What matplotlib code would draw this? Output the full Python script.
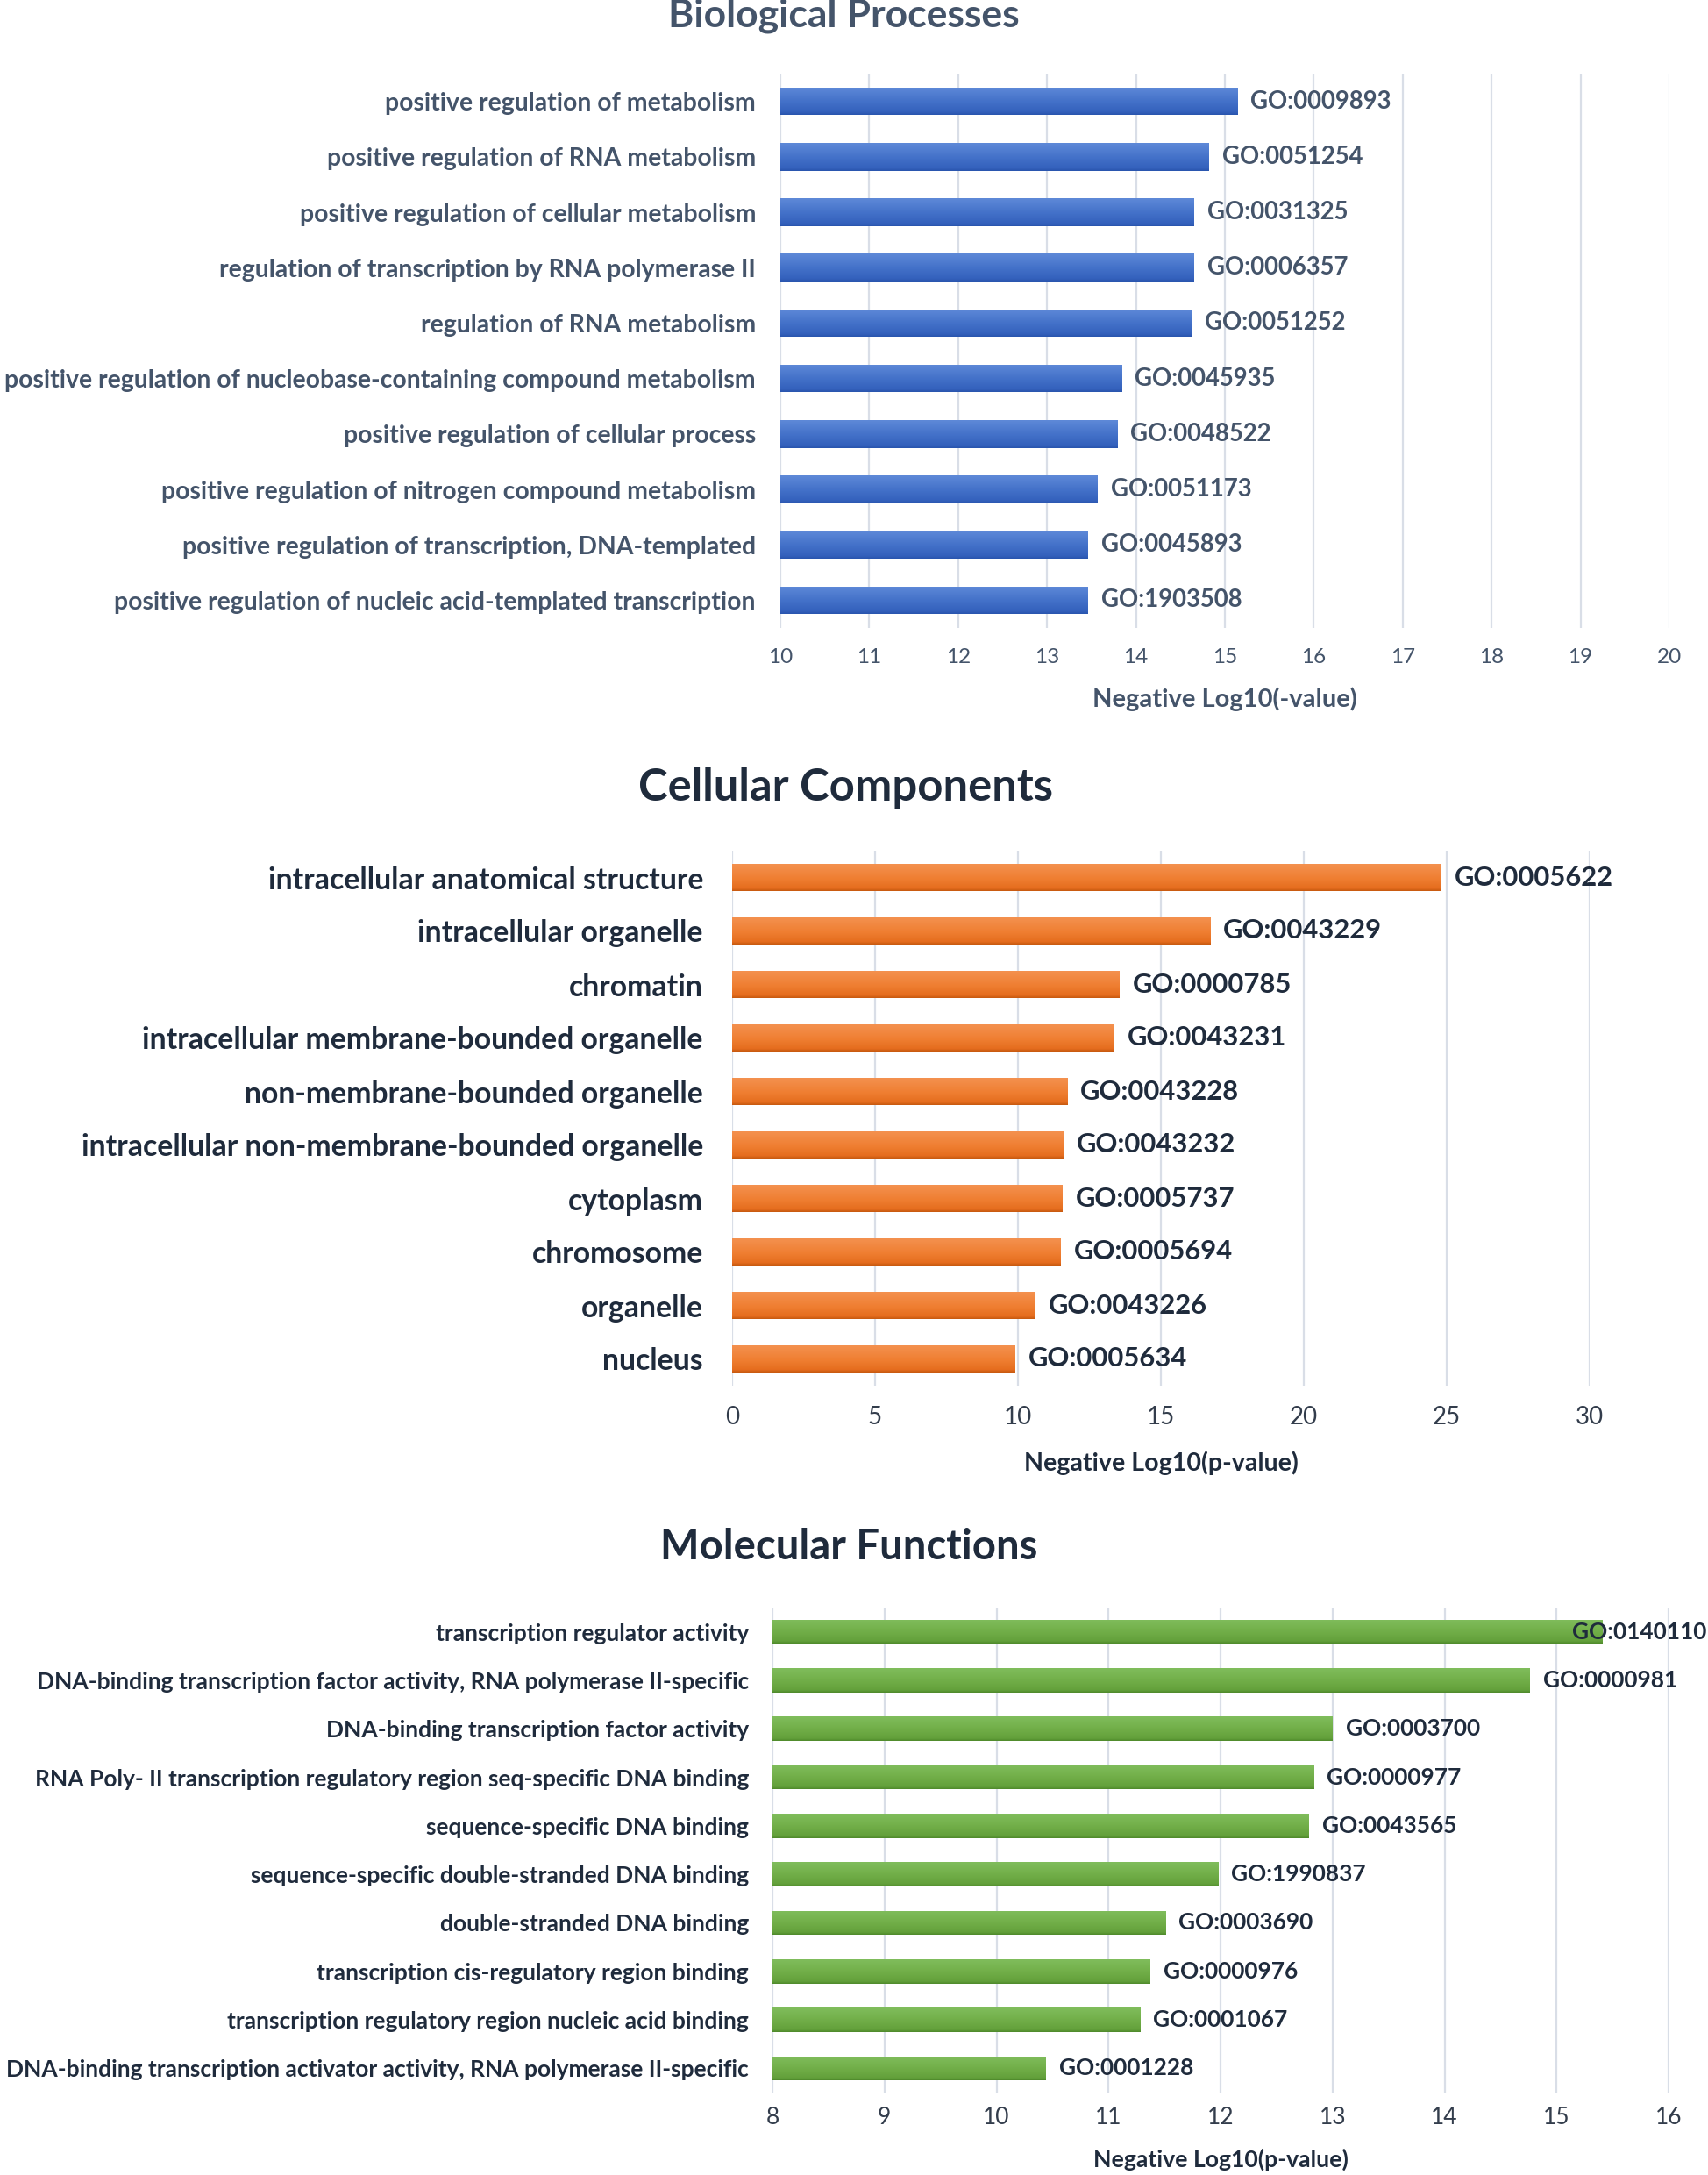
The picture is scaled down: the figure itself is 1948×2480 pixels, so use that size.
#!/usr/bin/env python3
import numpy as np
import matplotlib
matplotlib.use('Agg')
import matplotlib.pyplot as plt
from matplotlib.colors import LinearSegmentedColormap
from matplotlib.transforms import offset_copy

plt.rcParams['font.family'] = ['Lato', 'DejaVu Sans']

W, H = 1948, 2480

# Biological Processes
bp_terms = ["positive regulation of metabolism",
            "positive regulation of RNA metabolism",
            "positive regulation of cellular metabolism",
            "regulation of transcription by RNA polymerase II",
            "regulation of RNA metabolism",
            "positive regulation of nucleobase-containing compound metabolism",
            "positive regulation of cellular process",
            "positive regulation of nitrogen compound metabolism",
            "positive regulation of transcription, DNA-templated",
            "positive regulation of nucleic acid-templated transcription"]
bp_ids = ["GO:0009893", "GO:0051254", "GO:0031325", "GO:0006357", "GO:0051252",
          "GO:0045935", "GO:0048522", "GO:0051173", "GO:0045893", "GO:1903508"]
bp_values = [15.14, 14.82, 14.65, 14.65, 14.63, 13.84, 13.79, 13.57, 13.46, 13.46]
bp_ticks = list(range(10, 21))

# Cellular Components
cc_terms = ["intracellular anatomical structure",
            "intracellular organelle",
            "chromatin",
            "intracellular membrane-bounded organelle",
            "non-membrane-bounded organelle",
            "intracellular non-membrane-bounded organelle",
            "cytoplasm",
            "chromosome",
            "organelle",
            "nucleus"]
cc_ids = ["GO:0005622", "GO:0043229", "GO:0000785", "GO:0043231", "GO:0043228",
          "GO:0043232", "GO:0005737", "GO:0005694", "GO:0043226", "GO:0005634"]
cc_values = [24.81, 16.72, 13.55, 13.36, 11.72, 11.60, 11.56, 11.49, 10.61, 9.89]
cc_ticks = list(range(0, 31, 5))

# Molecular Functions
mf_terms = ["transcription regulator activity",
            "DNA-binding transcription factor activity, RNA polymerase II-specific",
            "DNA-binding transcription factor activity",
            "RNA Poly- II transcription regulatory region seq-specific DNA binding",
            "sequence-specific DNA binding",
            "sequence-specific double-stranded DNA binding",
            "double-stranded DNA binding",
            "transcription cis-regulatory region binding",
            "transcription regulatory region nucleic acid binding",
            "DNA-binding transcription activator activity, RNA polymerase II-specific"]
mf_ids = ["GO:0140110", "GO:0000981", "GO:0003700", "GO:0000977", "GO:0043565",
          "GO:1990837", "GO:0003690", "GO:0000976", "GO:0001067", "GO:0001228"]
mf_values = [15.41, 14.76, 13.00, 12.83, 12.79, 11.98, 11.51, 11.37, 11.28, 10.44]
mf_ticks = list(range(8, 17))

fig = plt.figure(figsize=(W / 100, H / 100), dpi=100)
value_texts = []


def add_panel(left, right, top, bottom, terms, ids, values, ticks, shades,
              title, title_x, title_base, title_size, label_size, id_size,
              tick_size, xlabel, xlabel_size, xlabel_y, tick_y, label_pad,
              text_color, tick_color):
    ax = fig.add_axes([left / W, 1 - bottom / H, (right - left) / W, (bottom - top) / H])
    y = np.arange(len(terms))
    x0 = ticks[0]
    widths = [v - x0 for v in values]
    bars = ax.barh(y, widths, left=x0, height=0.5, color=shades[1], edgecolor='none', zorder=2)
    cmap = LinearSegmentedColormap.from_list('g', [(0, shades[0]), (0.55, shades[1]),
                                                   (0.9, shades[2]), (1, shades[3])])
    grad = np.linspace(0, 1, 80).reshape(-1, 1)
    for b in bars:
        im = ax.imshow(grad, cmap=cmap, aspect='auto', origin='upper', zorder=2,
                       extent=(b.get_x(), b.get_x() + b.get_width(),
                               b.get_y() + b.get_height(), b.get_y()))
        im.set_clip_path(b)
    ax.set_xlim(ticks[0], ticks[-1])
    ax.set_ylim(len(terms) - 0.5, -0.5)
    ax.set_xticks(ticks)
    ax.grid(axis='x', color='#D9DEE7', linewidth=1.6, zorder=0)
    ax.set_axisbelow(True)
    for s in ax.spines.values():
        s.set_visible(False)
    ax.set_yticks(y, labels=terms, fontsize=label_size, fontweight='bold', color=text_color)
    ax.tick_params(axis='y', length=0, pad=label_pad * 0.72)
    ax.tick_params(axis='x', length=0, labelsize=tick_size, labelcolor=tick_color,
                   pad=(tick_y - bottom) * 0.72)
    for lbl in ax.get_xticklabels():
        lbl.set_va('center')
    ax.set_xlabel(xlabel, fontsize=xlabel_size, fontweight='bold', color=text_color)
    ax.xaxis.set_label_coords(0.5, (bottom - xlabel_y) / (bottom - top))
    ax.xaxis.label.set_va('center')
    trans = offset_copy(ax.transData, fig=fig, x=15, y=0, units='dots')
    for yi, v, gid in zip(y, values, ids):
        t = ax.text(v, yi, gid, transform=trans, ha='left', va='center', fontsize=id_size,
                    fontweight='bold', color=text_color, zorder=5, clip_on=False)
        value_texts.append((ax, t))
    fig.text(title_x / W, 1 - title_base / H, title, ha='center', va='baseline',
             fontsize=title_size, fontweight='bold', color=text_color)
    return ax


add_panel(890, 1904, 84, 716, bp_terms, bp_ids, bp_values, bp_ticks,
          ['#5E89D8', '#4270C8', '#3461BC', '#2A55AE'],
          "Biological Processes", 962, 31, 32, 20.4, 19.8, 17.5,
          "Negative Log10(-value)", 21, 797, 749, 28, '#44546A', '#44546A')

add_panel(835, 1813, 970, 1580, cc_terms, cc_ids, cc_values, cc_ticks,
          ['#F4914F', '#EF7E31', '#E56D1E', '#C75A10'],
          "Cellular Components", 965, 913, 36.5, 24.3, 22.3, 20,
          "Negative Log10(p-value)", 20.6, 1668, 1616, 33, '#1F2B3C', '#333D4C')

add_panel(881, 1903, 1833, 2386, mf_terms, mf_ids, mf_values, mf_ticks,
          ['#80BD5C', '#70AD47', '#63A03B', '#4F8A2C'],
          "Molecular Functions", 968, 1778, 34, 19.0, 18.9, 19,
          "Negative Log10(p-value)", 19.2, 2462, 2414, 27, '#1F2B3C', '#333D4C')

# keep value labels inside the figure, as the original chart does
fig.canvas.draw()
renderer = fig.canvas.get_renderer()
for ax, t in value_texts:
    bb = t.get_window_extent(renderer)
    if bb.x1 > W - 2:
        unit = ax.transData.transform((1, 0))[0] - ax.transData.transform((0, 0))[0]
        x, yy = t.get_position()
        t.set_position((x - (bb.x1 - (W - 2)) / unit, yy))

fig.savefig("out.png", dpi=100)
